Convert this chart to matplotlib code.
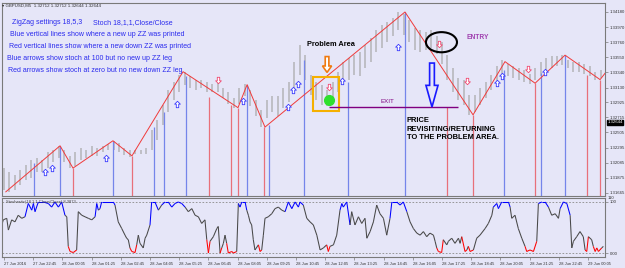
import numpy as np
import matplotlib.pyplot as plt
from matplotlib.path import Path
from matplotlib.patches import Ellipse, Rectangle, FancyArrow
from matplotlib.collections import LineCollection
import matplotlib.transforms as mtransforms

plt.rcParams['font.family'] = ['Liberation Sans', 'DejaVu Sans']

# ---- price bars (every 3rd M5 bar, high / low) ----
bar_idx = list(range(0, 330, 3))
bar_hi = [1.3201, 1.3196, 1.3191, 1.3198, 1.3205, 1.3212, 1.3215, 1.3212, 1.3224, 1.3226,
          1.3232, 1.3226, 1.3218, 1.3224, 1.3229, 1.3226, 1.3232, 1.3229, 1.3232, 1.3235,
          1.3239, 1.3236, 1.3229, 1.3226, 1.3226, 1.3226, 1.3229, 1.3254, 1.3268, 1.3289,
          1.3310, 1.3321, 1.3330, 1.3335, 1.3329, 1.3324, 1.3324, 1.3321, 1.3318, 1.3324,
          1.3312, 1.3307, 1.3299, 1.3312, 1.3318, 1.3310, 1.3296, 1.3282, 1.3296, 1.3301,
          1.3301, 1.3312, 1.3321, 1.3348, 1.3372, 1.3358, 1.3330, 1.3321, 1.3317, 1.3310,
          1.3321, 1.3335, 1.3348, 1.3354, 1.3358, 1.3362, 1.3372, 1.3382, 1.3393, 1.3400,
          1.3404, 1.3410, 1.3418, 1.3415, 1.3407, 1.3396, 1.3393, 1.3390, 1.3393, 1.3385,
          1.3376, 1.3358, 1.3340, 1.3326, 1.3324, 1.3303, 1.3303, 1.3312, 1.3321, 1.3330,
          1.3343, 1.3351, 1.3346, 1.3343, 1.3340, 1.3337, 1.3332, 1.3340, 1.3348, 1.3354,
          1.3357, 1.3357, 1.3358, 1.3351, 1.3348, 1.3348, 1.3346, 1.3343, 1.3335, 1.3337]
bar_lo = [1.3171, 1.3168, 1.3171, 1.3178, 1.3185, 1.3187, 1.3196, 1.3196, 1.3201, 1.3210,
          1.3215, 1.3210, 1.3201, 1.3204, 1.3212, 1.3215, 1.3218, 1.3218, 1.3224, 1.3226,
          1.3226, 1.3224, 1.3219, 1.3217, 1.3221, 1.3221, 1.3221, 1.3226, 1.3240, 1.3261,
          1.3279, 1.3296, 1.3307, 1.3317, 1.3312, 1.3310, 1.3312, 1.3307, 1.3307, 1.3307,
          1.3299, 1.3290, 1.3285, 1.3290, 1.3301, 1.3287, 1.3273, 1.3258, 1.3271, 1.3279,
          1.3273, 1.3285, 1.3293, 1.3310, 1.3330, 1.3324, 1.3303, 1.3296, 1.3289, 1.3287,
          1.3299, 1.3307, 1.3317, 1.3324, 1.3330, 1.3329, 1.3340, 1.3348, 1.3362, 1.3368,
          1.3376, 1.3385, 1.3393, 1.3386, 1.3376, 1.3365, 1.3362, 1.3365, 1.3368, 1.3360,
          1.3346, 1.3324, 1.3307, 1.3296, 1.3289, 1.3275, 1.3279, 1.3289, 1.3299, 1.3310,
          1.3321, 1.3332, 1.3329, 1.3326, 1.3324, 1.3321, 1.3318, 1.3324, 1.3329, 1.3335,
          1.3340, 1.3343, 1.3344, 1.3340, 1.3335, 1.3335, 1.3332, 1.3329, 1.3324, 1.3326]

# ---- zigzag vertices ----
zz_bar = [1, 30.7, 37.8, 59.7, 70.1, 98.1, 128.2, 133.2, 143.0, 219.7, 257.0, 274.5, 291.0, 307.4, 326.6, 330]
zz_price = [1.3168, 1.3232, 1.3201, 1.3239, 1.3218, 1.3335, 1.3285, 1.3317, 1.3258, 1.3418,
            1.3275, 1.3349, 1.3319, 1.3358, 1.3324, 1.3335]

# ---- vertical lines (new up / down ZZ) ----
up_line_bar = [16.4, 30.7, 59.7, 82.2, 87.7, 99.7, 133.2, 145.2, 164.4, 188.5, 219.7, 274.0, 294.2, 307.4]
up_line_top = [1.3208, 1.3232, 1.3239, 1.3258, 1.3279, 1.3329, 1.3317, 1.3261, 1.3351, 1.3321,
               1.3418, 1.3337, 1.3333, 1.3358]
dn_line_bar = [37.8, 70.1, 112.3, 124.4, 128.2, 142.5, 242.7, 257.0, 291.0, 319.5, 326.6]
dn_line_top = [1.3201, 1.3218, 1.3300, 1.3289, 1.3285, 1.3258, 1.3286, 1.3275, 1.3319, 1.3330, 1.3324]

# ---- arrows ----
up_arrow_bar = [22.5, 26.3, 55.9, 94.8, 131.0, 155.6, 158.4, 161.1, 185.2, 215.9, 270.1, 272.9, 296.4]
up_arrow_price = [1.3195, 1.3201, 1.3215, 1.3290, 1.3294, 1.3286, 1.3310, 1.3318, 1.3322, 1.3369,
                  1.3319, 1.3329, 1.3335]
dn_arrow_bar = [117.3, 178.1, 238.4, 253.7, 287.1]
dn_arrow_price = [1.3324, 1.3314, 1.3374, 1.3322, 1.3339]

# ---- stochastic ----
st_bar = [-2.2, -0.4, 1.5, 2.4, 4.2, 6.0, 7.8, 9.7, 11.5, 13.3, 15.2, 16.1, 17.0, 18.8, 21.5, 24.3,
          26.1, 27.9, 29.8, 31.6, 33.4, 34.4, 35.2, 36.2, 38.0, 39.8, 40.7, 42.6, 44.4, 46.2, 48.1,
          49.9, 50.8, 51.7, 52.6, 53.5, 59.9, 60.8, 62.6, 64.5, 66.3, 67.2, 68.1, 69.0, 70.0, 71.8,
          72.7, 73.6, 74.5, 76.3, 77.3, 78.2, 80.0, 80.9, 82.7, 84.6, 86.4, 88.2, 90.0, 91.9, 93.7,
          95.5, 97.4, 99.2, 101.0, 102.9, 104.7, 106.5, 108.3, 110.1, 111.1, 112.0, 112.9, 114.7,
          116.6, 117.4, 118.4, 119.3, 120.2, 121.1, 122.0, 122.9, 124.8, 125.7, 127.5, 128.4, 129.3,
          130.3, 132.1, 133.0, 133.9, 134.8, 135.7, 136.6, 137.5, 139.4, 140.3, 141.2, 142.1, 143.0,
          144.8, 146.7, 148.5, 150.3, 152.2, 154.0, 155.8, 157.7, 159.5, 161.3, 162.2, 164.0, 165.9,
          167.7, 169.5, 171.4, 173.2, 175.0, 176.8, 177.7, 178.6, 180.5, 182.3, 184.1, 185.1, 185.9,
          187.8, 189.6, 190.5, 192.3, 194.2, 196.0, 197.8, 198.8, 200.6, 202.4, 204.2, 206.0, 207.9,
          209.7, 211.5, 212.5, 215.2, 217.0, 218.8, 220.7, 222.5, 224.3, 226.2, 228.0, 229.8, 231.6,
          233.4, 235.3, 236.2, 237.1, 238.0, 239.8, 240.7, 242.6, 243.5, 245.3, 247.1, 249.0, 249.9,
          250.8, 252.6, 253.6, 254.4, 255.4, 257.2, 259.0, 260.8, 263.6, 265.4, 267.3, 268.1, 270.0,
          270.9, 272.7, 276.4, 277.3, 278.2, 280.0, 281.8, 283.7, 285.5, 286.4, 288.2, 290.1, 291.9,
          292.8, 294.7, 296.5, 298.3, 300.1, 302.0, 303.8, 304.7, 306.5, 308.4, 310.2, 311.1, 312.0,
          313.8, 315.6, 317.4, 318.4, 319.3, 320.2, 322.0, 322.9, 323.9, 324.8, 325.7, 327.5, 328.4]
st_val = [42, 65, 68, 45, 65, 61, 74, 68, 71, 97, 84, 97, 81, 100, 100, 97,
          90, 100, 90, 100, 74, 71, 13, 3, 1, 6, 81, 74, 71, 68, 65,
          71, 97, 84, 87, 100, 100, 94, 61, 48, 35, 29, 26, 10, 3, 1,
          16, 35, 19, 10, 29, 35, 55, 100, 100, 84, 94, 100, 100, 90, 97,
          100, 97, 90, 81, 87, 74, 71, 58, 65, 26, 0, 23, 32,
          48, 52, 0, 10, 19, 35, 19, 0, 3, 0, 3, 97, 90,
          100, 100, 84, 74, 61, 55, 26, 6, 16, 3, 6, 35, 68,
          71, 77, 87, 90, 84, 81, 100, 87, 100, 90, 100, 94, 68,
          61, 55, 35, 6, 10, 16, 3, 13, 16, 35, 84, 97, 90,
          100, 55, 81, 55, 71, 58, 68, 29, 42, 61, 94, 77, 68,
          35, 68, 100, 100, 94, 100, 81, 61, 48, 39, 35, 42, 32,
          39, 35, 23, 10, 3, 1, 26, 16, 23, 29, 19, 29, 19,
          32, 3, 6, 13, 3, 6, 29, 35, 48, 58, 74, 90, 97,
          87, 100, 100, 90, 68, 74, 48, 29, 13, 3, 6, 3, 23,
          97, 100, 100, 90, 74, 77, 68, 87, 100, 97, 74, 10, 23,
          32, 42, 32, 6, 3, 32, 26, 13, 3, 10, 3, 10, 13]

price_ticks = [1.34180, 1.33970, 1.33760, 1.33550, 1.33340, 1.33130, 1.32925, 1.32715,
               1.32505, 1.32295, 1.32085, 1.31875, 1.31665]
price_labels = ['1.34180', '1.33970', '1.33760', '1.33550', '1.33340', '1.33130', '1.32925',
                '1.32715', '1.32505', '1.32295', '1.32085', '1.31875', '1.31665']
time_ticks = list(range(0, 321, 16))
time_labels = ['27 Jun 2016', '27 Jun 22:45', '28 Jun 00:05', '28 Jun 01:25', '28 Jun 02:45',
               '28 Jun 04:05', '28 Jun 05:25', '28 Jun 06:45', '28 Jun 08:05', '28 Jun 09:25',
               '28 Jun 10:45', '28 Jun 12:05', '28 Jun 13:25', '28 Jun 14:45', '28 Jun 16:05',
               '28 Jun 17:25', '28 Jun 18:45', '28 Jun 20:05', '28 Jun 21:25', '28 Jun 22:45',
               '29 Jun 00:05']
last_price = 1.32644

BG = '#e6e6f8'
FRAME = '#7a7a7a'

fig = plt.figure(figsize=(6.25, 2.68), dpi=100, facecolor=BG)
ax = fig.add_axes([2/625, 72/268, 603/625, 193/268], facecolor=BG)
axs = fig.add_axes([2/625, 11/268, 603/625, 59/268], facecolor=BG)

for a in (ax, axs):
    a.set_xlim(-1.1, 329.3)
    for s in a.spines.values():
        s.set_color(FRAME)
        s.set_linewidth(0.8)
    a.yaxis.tick_right()
    a.tick_params(axis='y', length=2, width=0.5, color=FRAME, labelsize=3.1, pad=1.5, labelcolor='#303030')

ax.set_ylim(1.31622, 1.34305)
ax.set_xticks([])
ax.set_yticks(price_ticks)
ax.set_yticklabels(price_labels)

# price bars
ax.vlines(bar_idx, bar_lo, bar_hi, color='#b4b4b8', lw=1.1, zorder=1)

# vertical ZZ lines
ax.vlines(up_line_bar, 1.31622, up_line_top, color='#7585ea', lw=0.9, zorder=2)
ax.vlines(dn_line_bar, 1.31622, dn_line_top, color='#e8707a', lw=0.9, zorder=2)

# zigzag
ax.plot(zz_bar, zz_price, color='#f03a3a', lw=0.7, zorder=3)

# hollow arrows
def block_arrow(up=True):
    v = [(0, 1), (0.9, 0.1), (0.38, 0.1), (0.38, -1), (-0.38, -1), (-0.38, 0.1), (-0.9, 0.1), (0, 1)]
    if not up:
        v = [(x, -y) for x, y in v]
    codes = [Path.MOVETO] + [Path.LINETO] * (len(v) - 2) + [Path.CLOSEPOLY]
    return Path(v, codes)

ax.plot(up_arrow_bar, up_arrow_price, ls='none', marker=block_arrow(True), ms=4.6,
        mfc='white', mec='#3a3aff', mew=0.6, zorder=4)
ax.plot(dn_arrow_bar, dn_arrow_price, ls='none', marker=block_arrow(False), ms=4.6,
        mfc='white', mec='#f04870', mew=0.6, zorder=4)

# annotations
ax.add_patch(Rectangle((169.3, 1.3280), 14.3, 0.0048, fill=False, ec='#f5b000', lw=1.5, zorder=5))
ax.plot([178.1], [1.3296], 'o', color='#2ee02e', ms=7, zorder=6)
ax.hlines(1.3286, 178.1, 248.8, color='#800080', lw=1.0, zorder=5)
ax.text(210, 1.3294, 'EXIT', color='#800080', fontsize=4.4, ha='center', va='center', zorder=6)
ax.text(166, 1.3373, 'Problem Area', fontsize=5.3, fontweight='bold', color='black',
        ha='left', va='center', zorder=6)
ax.add_patch(FancyArrow(177, 1.3356, 0, -0.0022, width=2.0, head_width=5.0, head_length=0.0009,
                        length_includes_head=True, fc='white', ec='#f07a10', lw=1.2, zorder=6))
ax.add_patch(FancyArrow(234.5, 1.3347, 0, -0.0061, width=2.6, head_width=6.6, head_length=0.0030,
                        length_includes_head=True, fc=BG, ec='#1a1aff', lw=1.2, zorder=6))
ax.add_patch(Ellipse((239.7, 1.3376), 17, 0.0028, fill=False, ec='black', lw=1.5, zorder=6))
ax.text(253.2, 1.3383, 'ENTRY', fontsize=4.8, fontweight='bold', color='#a040b0',
        ha='left', va='center', zorder=6)
ax.text(220.8, 1.3272, 'PRICE\nREVISITING/RETURNING\nTO THE PROBLEM AREA.', fontsize=5.4,
        fontweight='bold', color='black', ha='left', va='top', linespacing=1.3, zorder=6)

# current price label
trans = mtransforms.blended_transform_factory(ax.transAxes, ax.transData)
ax.text(1.004, last_price, '1.32644', transform=trans, fontsize=3.1, color='white',
        ha='left', va='center', clip_on=False,
        bbox=dict(boxstyle='square,pad=0.15', fc='black', ec='black'))

# legend-like notes
notes = [
    (12, 23, 'ZigZag settings 18,5,3'),
    (93, 23, 'Stoch 18,1,1,Close/Close'),
    (10, 35, 'Blue vertical lines show where a new up ZZ was printed'),
    (9, 47, 'Red vertical lines show where a new down ZZ was printed'),
    (7, 59, 'Blue arrows show stoch at 100 but no new up ZZ leg'),
    (8, 70, 'Red arrows show stoch at zero but no new down ZZ leg'),
]
for px, py, t in notes:
    fig.text(px / 625, 1 - py / 268, t, fontsize=5.05, color='#2a2aee', ha='left', va='center')
fig.text(2 / 625, 1 - 5.5 / 268, '\u25be GBPUSD,M5  1.32712 1.32712 1.32644 1.32644',
         fontsize=3.2, color='#303030', ha='left', va='center')

# stochastic panel
axs.set_ylim(-7.8, 107.8)
axs.axhline(100, color='#8a8a8a', lw=0.6, ls=(0, (2, 2)))
axs.axhline(0, color='#8a8a8a', lw=0.6, ls=(0, (2, 2)))
axs.set_yticks([100, 0])
axs.set_yticklabels(['100', '0.00'])
axs.text(1.004, 1.0, '110', transform=axs.transAxes, fontsize=3.1, color='#303030',
         ha='left', va='center')

segs, cols = [], []
for i in range(len(st_val) - 1):
    v1, v2 = st_val[i], st_val[i + 1]
    segs.append([(st_bar[i], v1), (st_bar[i + 1], v2)])
    if max(v1, v2) >= 96 and min(v1, v2) >= 50:
        cols.append('#0000ff')
    elif min(v1, v2) <= 5 and max(v1, v2) <= 35:
        cols.append('#ff0000')
    else:
        cols.append('#484848')
axs.add_collection(LineCollection(segs, colors=cols, linewidths=0.75))
axs.text(0.006, 0.97, 'Stochastic(18,1,1,Close/Close) 8.3873', transform=axs.transAxes,
         fontsize=3, color='#404040', ha='left', va='top')

axs.set_xticks(time_ticks)
axs.set_xticklabels(time_labels)
axs.tick_params(axis='x', length=2, width=0.5, color=FRAME, labelsize=2.9, pad=1.5, labelcolor='#303030')
for lab in axs.get_xticklabels():
    lab.set_ha('left')

fig.savefig('out.png', dpi=100, facecolor=BG)
